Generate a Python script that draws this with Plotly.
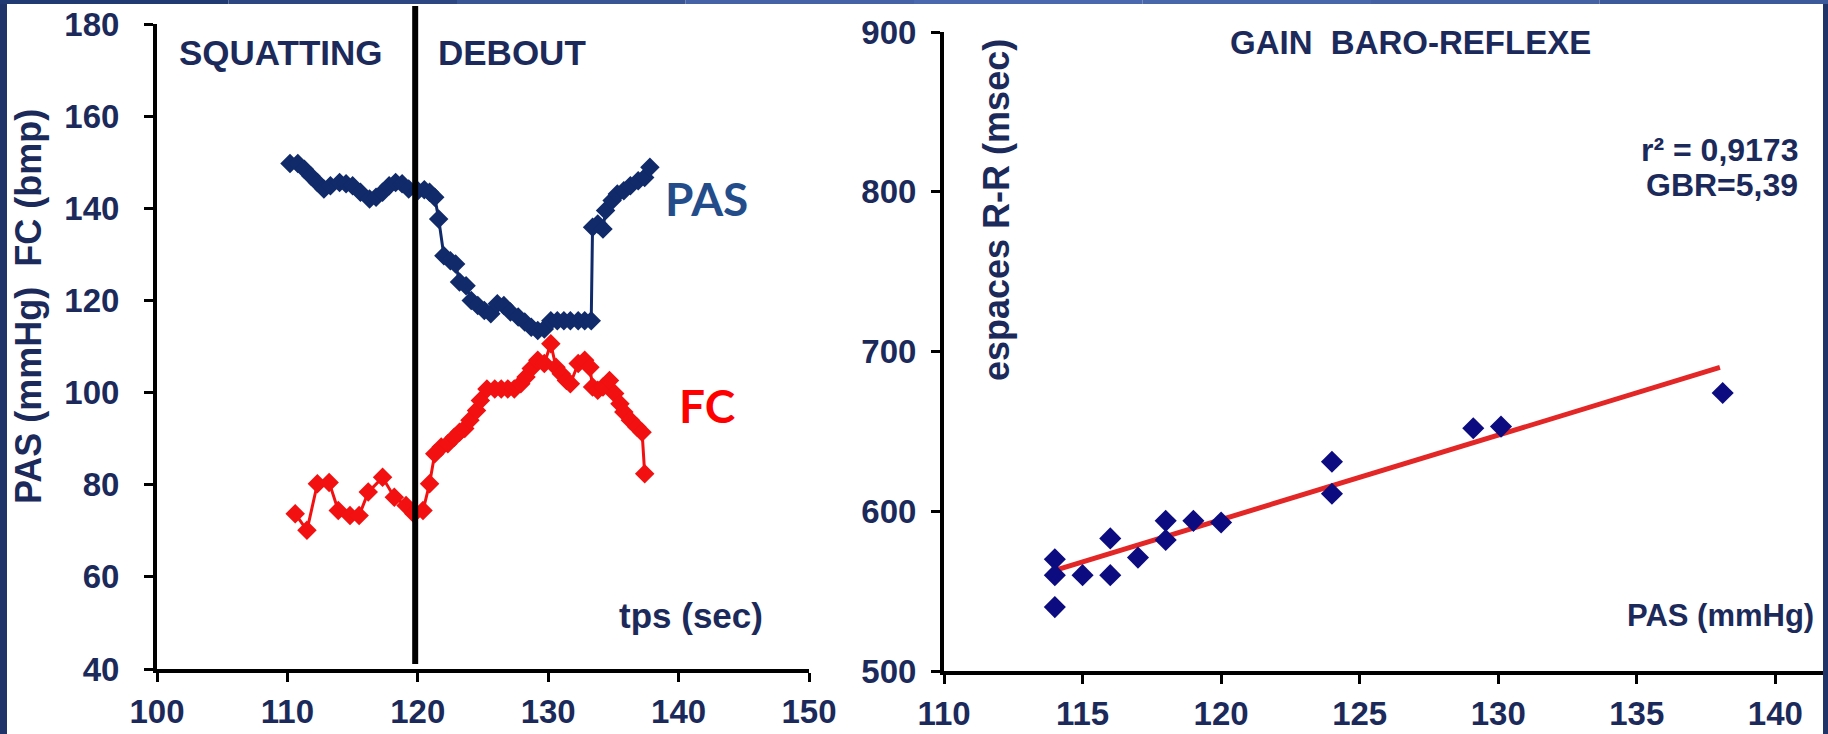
import plotly.graph_objects as go

# ---------------- data ----------------
pas_t = [110.2, 110.8, 111.3, 111.8, 112.3, 112.8, 113.3, 114.0, 114.5, 115.0, 115.6, 116.3, 116.8,
         117.3, 117.8, 118.3, 118.8, 119.3, 120.0, 120.5, 120.9, 121.3, 121.6, 122.0, 122.5, 122.9,
         123.2, 123.7, 124.1, 124.6, 125.1, 125.6, 126.1, 126.6, 127.1, 127.7, 128.2, 128.7, 129.2,
         129.7, 130.2, 130.7, 131.2, 131.7, 132.3, 132.8, 133.3, 133.4, 133.8, 134.2, 134.4, 134.9,
         135.3, 135.8, 136.3, 136.9, 137.4, 137.8]
pas_v = [149.7, 149.7, 148.5, 147.0, 145.6, 144.2, 144.9, 145.6, 145.3, 144.9, 143.5, 142.0, 142.4,
         143.5, 144.9, 145.6, 145.3, 144.2, 143.8, 144.0, 143.5, 142.4, 137.7, 129.7, 128.6, 127.9,
         124.0, 123.2, 120.0, 118.9, 117.8, 117.1, 119.3, 118.9, 117.5, 116.4, 115.3, 114.2, 113.5,
         113.8, 115.6, 115.6, 115.6, 115.6, 115.6, 115.6, 115.6, 135.9, 136.6, 135.5, 139.5, 141.7,
         143.1, 143.8, 144.9, 146.0, 146.7, 148.9]

fc_t = [110.6, 111.5, 112.3, 113.2, 113.9, 114.8, 115.5, 116.2, 117.3, 118.2, 119.1, 119.7, 120.4,
        120.9, 121.3, 121.8, 122.3, 122.8, 123.2, 123.6, 124.0, 124.5, 124.8, 125.3, 125.9, 126.4,
        126.9, 127.4, 127.9, 128.3, 128.7, 129.2, 129.7, 130.2, 130.6, 131.0, 131.4, 131.7, 132.3,
        132.8, 133.2, 133.4, 133.8, 134.2, 134.7, 135.1, 135.5, 135.8, 136.3, 136.8, 137.2, 137.4]
fc_v = [73.7, 70.1, 80.2, 80.5, 74.4, 73.3, 73.3, 78.4, 81.6, 77.3, 75.5, 73.7, 74.4,
        80.2, 86.7, 88.2, 88.9, 90.3, 91.4, 92.2, 94.0, 96.1, 98.3, 100.8, 100.8, 100.8,
        100.8, 100.8, 101.9, 103.4, 105.2, 107.0, 106.3, 110.6, 105.5, 104.1, 102.6, 101.9, 106.3,
        107.0, 105.5, 101.2, 100.5, 101.2, 102.6, 99.8, 97.6, 95.8, 94.0, 92.5, 91.4, 82.4]

phase_change_t = 119.8

baro_pas = [114, 114, 114, 115, 116, 116, 117, 118, 118, 119, 120, 124, 124, 129.1, 130.1, 138.1]
baro_rr = [570, 560, 540, 560, 583, 560, 571, 594, 582, 594, 593, 631, 611, 652, 653, 674]

trend_x = [114, 138]
trend_y = [563, 690]

left_x_ticks = [100, 110, 120, 130, 140, 150]
left_y_ticks = [40, 60, 80, 100, 120, 140, 160, 180]
right_x_ticks = [110, 115, 120, 125, 130, 135, 140]
right_y_ticks = [500, 600, 700, 800, 900]

# ---------------- style ----------------
W, H = 1828, 734
NAVY_TXT = "#1b2a5a"
PAS_COL = "#102a6a"
FC_COL = "#f21010"
DOT_COL = "#0c0c80"
FONT = "Liberation Sans, Arial, sans-serif"


def px(x):
    return x / W


def py(y):
    return 1 - y / H


fig = go.Figure()

fig.add_trace(go.Scatter(x=pas_t, y=pas_v, mode="lines+markers", xaxis="x", yaxis="y",
                         line=dict(color=PAS_COL, width=3),
                         marker=dict(symbol="diamond", size=15, color=PAS_COL),
                         showlegend=False, cliponaxis=False))
fig.add_trace(go.Scatter(x=fc_t, y=fc_v, mode="lines+markers", xaxis="x", yaxis="y",
                         line=dict(color=FC_COL, width=3),
                         marker=dict(symbol="diamond", size=15, color=FC_COL),
                         showlegend=False, cliponaxis=False))

fig.add_trace(go.Scatter(x=trend_x, y=trend_y, mode="lines", xaxis="x2", yaxis="y2",
                         line=dict(color="#e32626", width=5), showlegend=False))
fig.add_trace(go.Scatter(x=baro_pas, y=baro_rr, mode="markers", xaxis="x2", yaxis="y2",
                         marker=dict(symbol="diamond", size=17, color=DOT_COL),
                         showlegend=False, cliponaxis=False))

axis_common = dict(showgrid=False, zeroline=False, showline=True, linecolor="black", linewidth=4,
                   ticks="outside", ticklen=9, tickwidth=3, tickcolor="black",
                   tickfont=dict(family=FONT, size=33, color=NAVY_TXT, weight="bold"),
                   automargin=False)

fig.update_layout(
    width=W, height=H,
    margin=dict(l=0, r=0, t=0, b=0),
    paper_bgcolor="white", plot_bgcolor="white",
    xaxis=dict(domain=[px(157), px(809)], range=[100, 150], tickvals=left_x_ticks,
               anchor="y", ticklabelstandoff=1, **axis_common),
    yaxis=dict(domain=[py(669), py(24)], range=[40, 180], tickvals=left_y_ticks,
               anchor="x", ticklabelstandoff=18, **axis_common),
    xaxis2=dict(domain=[px(944), px(1823)], range=[110, 141.72], tickvals=right_x_ticks,
                anchor="y2", ticklabelstandoff=1, **axis_common),
    yaxis2=dict(domain=[py(671), py(32)], range=[500, 900], tickvals=right_y_ticks,
                anchor="x2", ticklabelstandoff=8, **axis_common),
)

shapes = [
    # phase separator
    dict(type="line", xref="x", yref="paper", x0=phase_change_t, x1=phase_change_t,
         y0=py(664), y1=py(6), line=dict(color="black", width=6)),
    # slide frame
    dict(type="rect", xref="paper", yref="paper", x0=0, x1=px(7), y0=0, y1=1,
         fillcolor="#1f3468", line=dict(width=0), layer="above"),
    dict(type="rect", xref="paper", yref="paper", x0=px(1823), x1=1, y0=0, y1=1,
         fillcolor="#1f3468", line=dict(width=0), layer="above"),
]
top_cols = ["#223a72", "#2c4682", "#3a5594", "#4562a6", "#4a68ae", "#4866aa", "#4361a3", "#3c599a"]
n = len(top_cols)
for i, c in enumerate(top_cols):
    shapes.append(dict(type="rect", xref="paper", yref="paper", x0=i / n, x1=(i + 1) / n,
                       y0=py(4), y1=1, fillcolor=c, line=dict(width=0), layer="above"))
fig.update_layout(shapes=shapes)

ann = []
head = dict(family=FONT, size=35, color=NAVY_TXT, weight="bold")
ann.append(dict(text="SQUATTING", xref="x", yref="y", x=101.5, y=173.9, xanchor="left",
                yanchor="middle", showarrow=False, font=head))
ann.append(dict(text="DEBOUT", xref="x", yref="y", x=121.4, y=173.9, xanchor="left",
                yanchor="middle", showarrow=False, font=head))
ann.append(dict(text="PAS", xref="x", yref="y", x=138.8, y=142.2, xanchor="left",
                yanchor="middle", showarrow=False,
                font=dict(family="Lato, Open Sans, sans-serif", size=46, color="#234d8a", weight="bold")))
ann.append(dict(text="FC", xref="x", yref="y", x=139.9, y=97.3, xanchor="left",
                yanchor="middle", showarrow=False,
                font=dict(family="Lato, Open Sans, sans-serif", size=46, color="#ff0000", weight="bold")))
ann.append(dict(text="tps (sec)", xref="x", yref="y", x=146.6, y=51.7, xanchor="right",
                yanchor="middle", showarrow=False,
                font=dict(family=FONT, size=35, color=NAVY_TXT, weight="bold")))
ann.append(dict(text="PAS (mmHg)  FC (bmp)", xref="paper", yref="paper", x=px(28), y=py(307),
                xanchor="center", yanchor="middle", textangle=-90, showarrow=False,
                font=dict(family=FONT, size=36, color=NAVY_TXT, weight="bold")))

ann.append(dict(text="GAIN  BARO-REFLEXE", xref="x2", yref="y2", x=126.85, y=893.7,
                xanchor="center", yanchor="middle", showarrow=False,
                font=dict(family=FONT, size=33, color=NAVY_TXT, weight="bold")))
ann.append(dict(text="r² = 0,9173", xref="x2", yref="y2", x=140.9, y=826,
                xanchor="right", yanchor="middle", showarrow=False,
                font=dict(family=FONT, size=32, color=NAVY_TXT, weight="bold")))
ann.append(dict(text="GBR=5,39", xref="x2", yref="y2", x=140.9, y=804,
                xanchor="right", yanchor="middle", showarrow=False,
                font=dict(family=FONT, size=32, color=NAVY_TXT, weight="bold")))
ann.append(dict(text="PAS (mmHg)", xref="x2", yref="y2", x=141.45, y=535,
                xanchor="right", yanchor="middle", showarrow=False,
                font=dict(family=FONT, size=31, color=NAVY_TXT, weight="bold")))
ann.append(dict(text="espaces R-R (msec)", xref="paper", yref="paper", x=px(996), y=py(210),
                xanchor="center", yanchor="middle", textangle=-90, showarrow=False,
                font=dict(family=FONT, size=36, color=NAVY_TXT, weight="bold")))
fig.update_layout(annotations=ann)

fig.write_html("out.html", config={"displayModeBar": False},
               post_script="document.body.style.margin='0';document.body.style.overflow='hidden';")
